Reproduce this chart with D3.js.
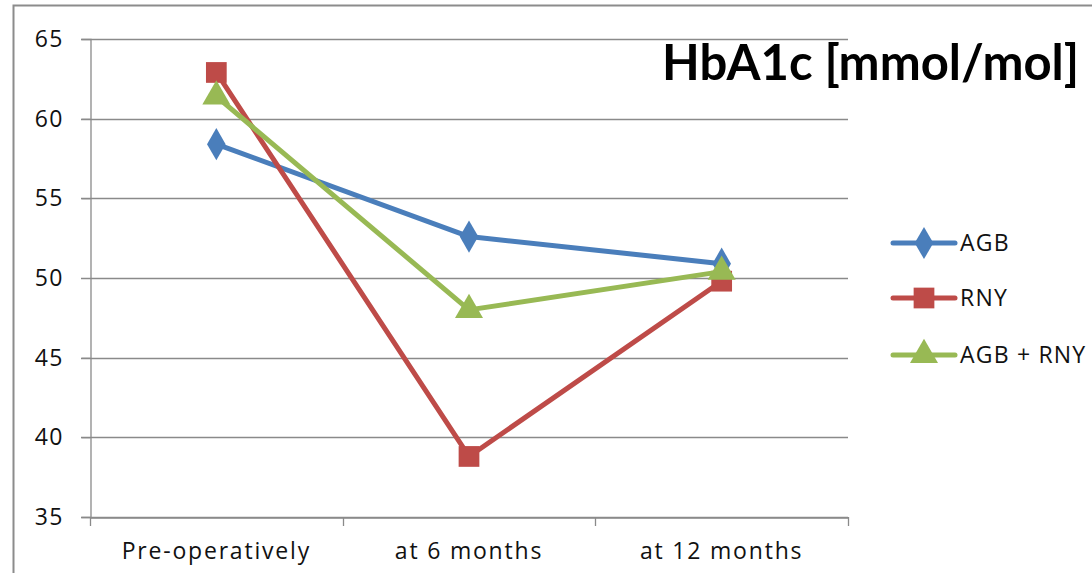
<!DOCTYPE html>
<html>
<head>
<meta charset="utf-8">
<script src="https://cdn.jsdelivr.net/npm/d3@7"></script>
<style>
  body { margin: 0; background: #fff; }
  svg { display: block; }
</style>
</head>
<body>
<div id="chart"></div>
<script>
// data
var categories = ["Pre-operatively", "at 6 months", "at 12 months"]
var seriesNames = ["AGB", "RNY", "AGB + RNY"]
var agb = [58.4, 52.6, 50.9]
var rny = [62.9, 38.8, 49.8]
var agbRny = [61.4, 48.0, 50.4]
var yTicks = [35, 40, 45, 50, 55, 60, 65]

var colors = ["#4a7ebb", "#be4b48", "#98b954"]
var symbols = [d3.symbolDiamond, d3.symbolSquare, d3.symbolTriangle]
var symbolSizes = [300, 430, 340]

var width = 1092
var height = 573
var plotLeft = 90, plotRight = 848, plotTop = 39, plotBottom = 517
var font = "'Open Sans', sans-serif"
var gridColor = "#8a8a8a"

var svg = d3.select("#chart")
            .append("svg")
            .attr("width", width)
            .attr("height", height)

// outer frame (chart is cropped at the right and bottom)
svg.append("path")
   .attr("d", "M13.5," + height + "V5.5H" + width)
   .attr("fill", "none")
   .attr("stroke", "#8c8c8c")
   .attr("stroke-width", 2)

var x = d3.scaleBand()
          .domain(categories)
          .range([plotLeft, plotRight])

var y = d3.scaleLinear()
          .domain([35, 65])
          .range([plotBottom, plotTop])

// gridlines
svg.append("g")
   .selectAll("line")
   .data(yTicks)
   .join("line")
   .attr("x1", plotLeft - 9)
   .attr("x2", plotRight)
   .attr("y1", function(d) { return Math.round(y(d)) + 0.5 })
   .attr("y2", function(d) { return Math.round(y(d)) + 0.5 })
   .attr("stroke", gridColor)
   .attr("stroke-width", 1.3)

// y axis
var yAxis = svg.append("g")
               .attr("transform", "translate(" + (plotLeft + 0.5) + ",0)")
               .call(d3.axisLeft(y).tickValues(yTicks).tickSize(9).tickPadding(18))
yAxis.select(".domain").attr("stroke", gridColor).attr("stroke-width", 1.3)
yAxis.selectAll(".tick line").attr("stroke", gridColor)
yAxis.selectAll("text")
     .attr("font-family", font)
     .attr("font-size", "23px")
     .attr("letter-spacing", "1.2px")
     .attr("fill", "#111")

// x axis, ticks at the category boundaries
var xAxis = svg.append("g")
               .attr("transform", "translate(0," + (plotBottom + 0.5) + ")")
               .call(d3.axisBottom(x).tickSize(0).tickPadding(25))
xAxis.select(".domain").attr("stroke", gridColor).attr("stroke-width", 1.3)
xAxis.selectAll("text")
     .attr("font-family", font)
     .attr("font-size", "23px")
     .attr("letter-spacing", "1.8px")
     .attr("fill", "#111")

var bounds = categories.map(function(c) { return x(c) }).concat([plotRight])
svg.append("g")
   .selectAll("line")
   .data(bounds)
   .join("line")
   .attr("x1", function(d) { return Math.round(d) + 0.5 })
   .attr("x2", function(d) { return Math.round(d) + 0.5 })
   .attr("y1", plotBottom)
   .attr("y2", plotBottom + 9)
   .attr("stroke", gridColor)
   .attr("stroke-width", 1.3)

// series
var series = [agb, rny, agbRny]
var cx = function(d, i) { return x(categories[i]) + x.bandwidth() / 2 }

var line = d3.line()
             .x(cx)
             .y(function(d) { return y(d) })

series.forEach(function(values, s) {
  svg.append("path")
     .datum(values)
     .attr("d", line)
     .attr("fill", "none")
     .attr("stroke", colors[s])
     .attr("stroke-width", 5)
     .attr("stroke-linejoin", "round")

  svg.append("g")
     .selectAll("path")
     .data(values)
     .join("path")
     .attr("d", d3.symbol().type(symbols[s]).size(symbolSizes[s]))
     .attr("transform", function(d, i) { return "translate(" + cx(d, i) + "," + y(d) + ")" })
     .attr("fill", colors[s])
})

// title
svg.append("text")
   .attr("x", 662)
   .attr("y", 80)
   .text("HbA1c [mmol/mol]")
   .attr("font-family", "Lato, sans-serif")
   .attr("font-weight", "700")
   .attr("font-size", "49px")
   .attr("fill", "#000")

// legend
var legendY = [243, 298, 355]
var legend = svg.append("g")
seriesNames.forEach(function(name, s) {
  var g = legend.append("g").attr("transform", "translate(893," + legendY[s] + ")")
  g.append("line")
   .attr("x1", 0)
   .attr("x2", 62)
   .attr("stroke", colors[s])
   .attr("stroke-width", 5)
   .attr("stroke-linecap", "round")
  g.append("path")
   .attr("d", d3.symbol().type(symbols[s]).size(symbolSizes[s]))
   .attr("transform", "translate(31,0)")
   .attr("fill", colors[s])
  g.append("text")
   .attr("x", 67)
   .attr("dy", "0.36em")
   .text(name)
   .attr("font-family", font)
   .attr("font-size", "23px")
   .attr("letter-spacing", "1.2px")
   .attr("fill", "#111")
})
</script>
</body>
</html>
